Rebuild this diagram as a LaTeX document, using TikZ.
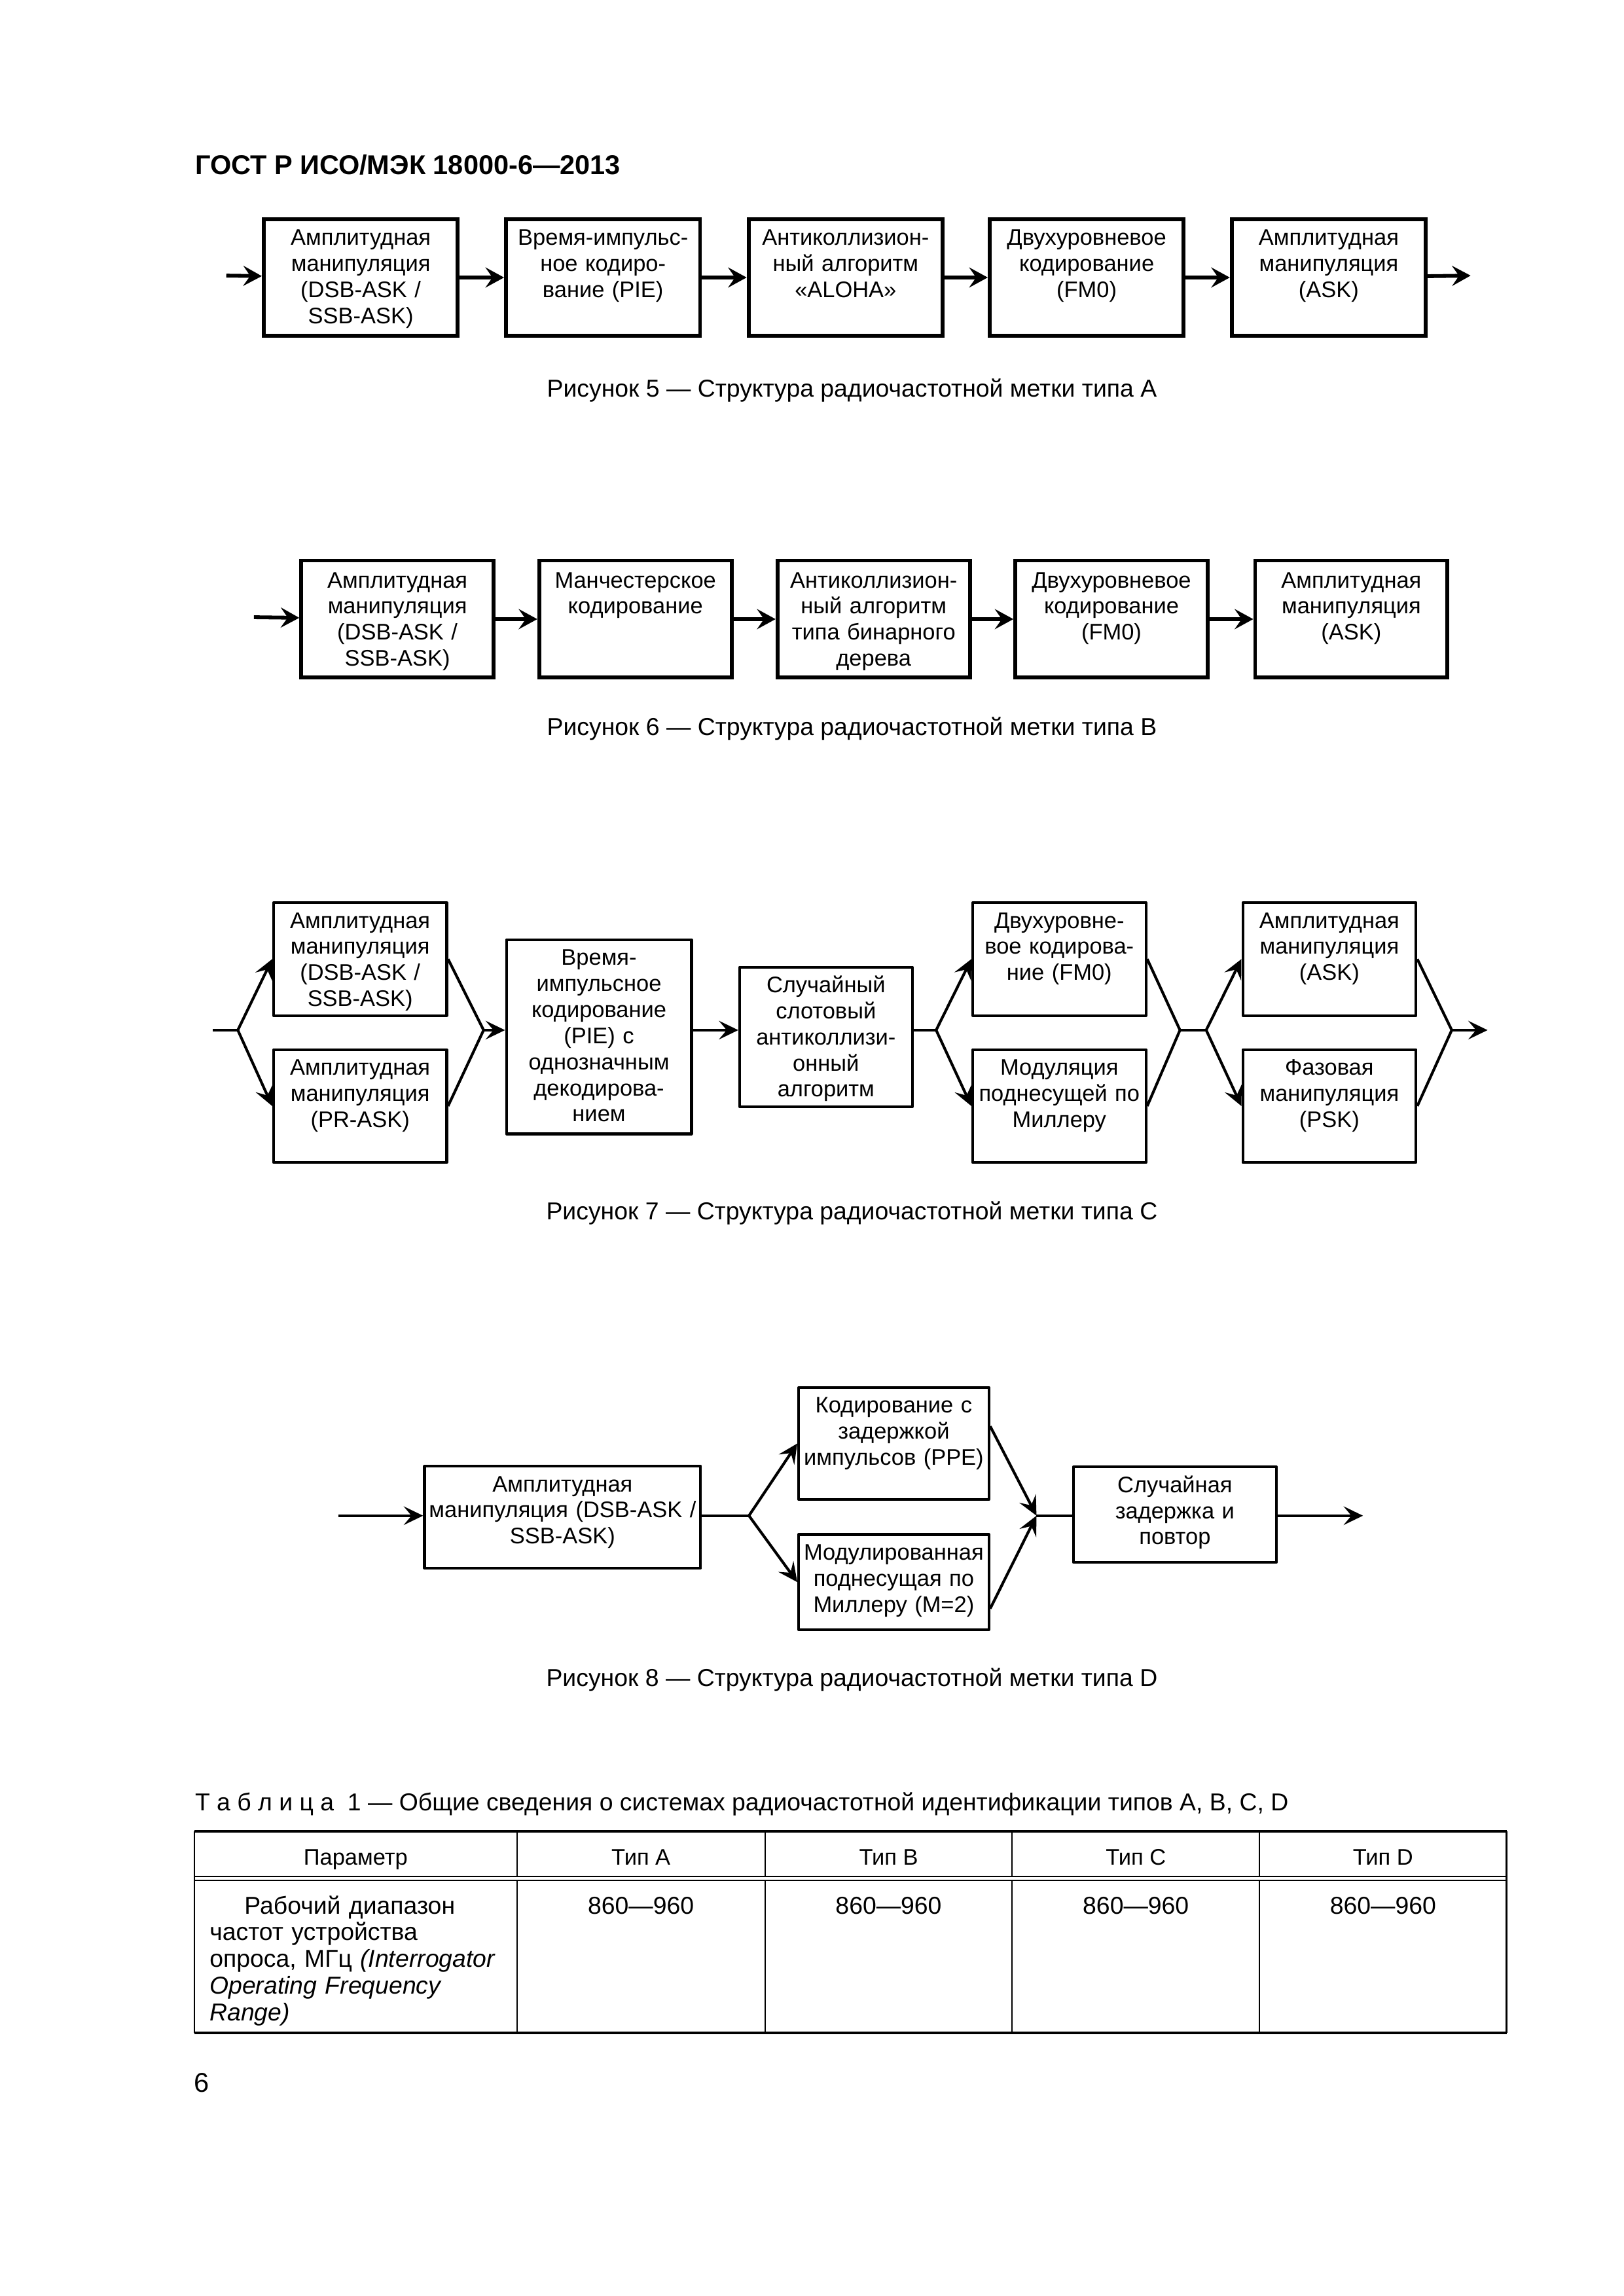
\documentclass[tikz,border=0pt]{standalone}
\usepackage{fontspec}
\setmainfont{Liberation Sans}
\usetikzlibrary{calc}
\usetikzlibrary{arrows.meta}

\begin{document}
\begin{tikzpicture}[
  blk/.style={draw, inner sep=0pt, align=center, anchor=north, font=\fontsize{8.3}{9.6}\selectfont},
  boxA/.style={blk, text width=2.51cm, text height=0.339cm, text depth=1.171cm},
  boxB/.style={blk, text width=2.488cm, text height=0.352cm, text depth=1.162cm},
  boxC/.style={blk, text width=2.24cm, text height=0.33cm, text depth=1.131cm},
  boxD/.style={blk, text height=0.33cm},
  txt/.style={inner sep=0pt, font=\fontsize{9}{11}\selectfont},
  heavy/.style={line width=1.4pt},
  thin/.style={line width=1pt, line join=round},
  arrA/.style={-{Stealth[length=2.4mm,width=2.6mm,inset=0.9mm]}},
  arrB/.style={-{Stealth[length=2.5mm,width=2.4mm,inset=1mm]}}
]
\useasboundingbox (0,0) rectangle (21,-29.7);

\node[txt, anchor=base west, font=\bfseries\fontsize{10}{12}\selectfont] (hdr) at (2.516,-2.259) {ГОСТ Р ИСО/МЭК 18000-6—2013};

% Figure 5
\begin{scope}[heavy]
\node[boxA] (a1) at (4.666,-2.81) {Амплитудная\\манипуляция\\(DSB-ASK /\\SSB-ASK)};
\node[boxA] (a2) at (7.799,-2.81) {Время-импульс-\\ное кодиро-\\вание (PIE)};
\node[boxA] (a3) at (10.937,-2.81) {Антиколлизион-\\ный алгоритм\\«ALOHA»};
\node[boxA] (a4) at (14.055,-2.81) {Двухуровневое\\кодирование\\(FM0)};
\node[boxA] (a5) at (17.186,-2.81) {Амплитудная\\манипуляция\\(ASK)};
\coordinate (ain) at (2.927,-3.565);
\coordinate (aout) at (19.021,-3.565);
\draw[arrA] (ain) -- (a1);
\draw[arrA] (a1) -- (a2);
\draw[arrA] (a2) -- (a3);
\draw[arrA] (a3) -- (a4);
\draw[arrA] (a4) -- (a5);
\draw[arrA] (a5) -- (aout);
\end{scope}
\node[txt, anchor=base] (cap5) at (11.018,-5.135) {Рисунок 5 — Структура радиочастотной метки типа А};

% Figure 6
\begin{scope}[heavy]
\node[boxB] (b1) at (5.140,-7.227) {Амплитудная\\манипуляция\\(DSB-ASK /\\SSB-ASK)};
\node[boxB] (b2) at (8.218,-7.227) {Манчестерское\\кодирование};
\node[boxB] (b3) at (11.300,-7.227) {Антиколлизион-\\ный алгоритм\\типа бинарного\\дерева};
\node[boxB] (b4) at (14.376,-7.227) {Двухуровневое\\кодирование\\(FM0)};
\node[boxB] (b5) at (17.478,-7.227) {Амплитудная\\манипуляция\\(ASK)};
\coordinate (bin) at (3.284,-7.984);
\draw[arrA] (bin) -- (b1);
\draw[arrA] (b1) -- (b2);
\draw[arrA] (b2) -- (b3);
\draw[arrA] (b3) -- (b4);
\draw[arrA] (b4) -- (b5);
\end{scope}
\node[txt, anchor=base] (cap6) at (11.018,-9.515) {Рисунок 6 — Структура радиочастотной метки типа В};

% Figure 7
\begin{scope}[thin]
\node[boxC] (c1) at (4.658,-11.658) {Амплитудная\\манипуляция\\(DSB-ASK /\\SSB-ASK)};
\node[boxC] (c2) at (4.658,-13.559) {Амплитудная\\манипуляция\\(PR-ASK)};
\node[boxC, text width=2.395cm, text depth=2.182cm] (c3) at (7.747,-12.138) {Время-\\импульсное\\кодирование\\(PIE) с\\однозначным\\декодирова-\\нием};
\node[boxC, text width=2.232cm, text depth=1.477cm] (c4) at (10.683,-12.492) {Случайный\\слотовый\\антиколлизи-\\онный\\алгоритм};
\node[boxC] (c5) at (13.701,-11.658) {Двухуровне-\\вое кодирова-\\ние (FM0)};
\node[boxC] (c6) at (13.701,-13.559) {Модуляция\\поднесущей по\\Миллеру};
\node[boxC] (c7) at (17.194,-11.658) {Амплитудная\\манипуляция\\(ASK)};
\node[boxC] (c8) at (17.194,-13.559) {Фазовая\\манипуляция\\(PSK)};
\coordinate (cin) at (2.753,-13.325);
\coordinate (cb1) at (3.076,-13.325);
\coordinate (cm1) at (6.255,-13.325);
\coordinate (cb2) at (12.108,-13.325);
\coordinate (cm2) at (15.262,-13.325);
\coordinate (cb3) at (15.601,-13.325);
\coordinate (cm3) at (18.777,-13.325);
\coordinate (cout) at (19.241,-13.325);
\draw (cin) -- (cb1);
\draw[arrB] (cb1) -- (c1.west);
\draw[arrB] (cb1) -- (c2.west);
\draw (c1.east) -- (cm1) -- (c2.east);
\draw[arrB] (cm1) -- (cm1 -| c3.west);
\draw[arrB] (c3.east |- cm1) -- (c4.west |- cm1);
\draw (c4.east |- cm1) -- (cb2);
\draw[arrB] (cb2) -- (c5.west);
\draw[arrB] (cb2) -- (c6.west);
\draw (c5.east) -- (cm2) -- (c6.east);
\draw (cm2) -- (cb3);
\draw[arrB] (cb3) -- (c7.west);
\draw[arrB] (cb3) -- (c8.west);
\draw (c7.east) -- (cm3) -- (c8.east);
\draw[arrB] (cm3) -- (cout);
\end{scope}
\node[txt, anchor=base] (cap7) at (11.018,-15.777) {Рисунок 7 — Структура радиочастотной метки типа С};

% Figure 8
\begin{scope}[thin]
\node[boxD, text width=3.572cm, text depth=0.991cm] (d1) at (7.276,-18.947) {Амплитудная\\манипуляция (DSB-ASK /\\SSB-ASK)};
\node[boxD, text width=2.46cm, text depth=1.117cm] (d2) at (11.560,-17.931) {Кодирование с\\задержкой\\импульсов (PPE)};
\node[boxD, text width=2.46cm, text depth=0.903cm] (d3) at (11.560,-19.831) {Модулированная\\поднесущая по\\Миллеру (M=2)};
\node[boxD, text width=2.626cm, text depth=0.905cm] (d4) at (15.196,-18.957) {Случайная\\задержка и\\повтор};
\coordinate (din) at (4.378,-19.606);
\coordinate (db) at (9.687,-19.606);
\coordinate (dm) at (13.406,-19.606);
\coordinate (dout) at (17.629,-19.606);
\draw[arrB] (din) -- (din -| d1.west);
\draw (d1.east |- db) -- (db);
\draw[arrB] (db) -- (d2.west);
\draw[arrB] (db) -- (d3.west);
\draw[arrB] ($(d2.north east)!0.35!(d2.south east)$) -- (dm);
\draw[arrB] ($(d3.north east)!0.77!(d3.south east)$) -- (dm);
\draw (dm) -- (dm -| d4.west);
\draw[arrB] (d4.east |- dm) -- (dout);
\end{scope}
\node[txt, anchor=base] (cap8) at (11.018,-21.813) {Рисунок 8 — Структура радиочастотной метки типа D};

% Table 1
\node[txt, anchor=base west] (tabt) at (2.516,-23.42) {Т а б л и ц а~ 1 — Общие сведения о системах радиочастотной идентификации типов А, В, С, D};
\draw[line width=1pt] (2.514,-23.692) -- (19.487,-23.692);
\draw[line width=1pt] (2.514,-26.297) -- (19.487,-26.297);
\draw[line width=0.6pt] (2.514,-23.692) -- (2.514,-26.297);
\draw[line width=0.6pt] (19.487,-23.692) -- (19.487,-26.297);
\draw[line width=0.5pt] (2.514,-24.273) -- (19.487,-24.273);
\draw[line width=0.5pt] (2.514,-24.324) -- (19.487,-24.324);
\foreach \x in {6.686,9.895,13.092,16.289} {
  \draw[line width=0.5pt] (\x,-23.692) -- (\x,-24.273);
  \draw[line width=0.5pt] (\x,-24.324) -- (\x,-26.297);
}
\begin{scope}[every node/.style={inner sep=0pt, anchor=base, font=\fontsize{8.3}{10}\selectfont}]
\node (hpar) at (4.600,-24.128) {Параметр};
\node (hta) at (8.290,-24.128) {Тип А};
\node (htb) at (11.493,-24.128) {Тип В};
\node (htc) at (14.691,-24.128) {Тип С};
\node (htd) at (17.888,-24.128) {Тип D};
\end{scope}
\begin{scope}[every node/.style={inner sep=0pt, anchor=base, font=\fontsize{9}{9.8}\selectfont}]
\node[anchor=base west, text width=3.95cm, align=left] (vpar) at (2.705,-24.758) {\hspace*{0.45cm}Рабочий диапазон\\частот устройства\\опроса, МГц {\itshape(Interrogator\\Operating Frequency\\Range)}};
\node (vta) at (8.290,-24.758) {860—960};
\node (vtb) at (11.493,-24.758) {860—960};
\node (vtc) at (14.691,-24.758) {860—960};
\node (vtd) at (17.888,-24.758) {860—960};
\end{scope}

\node[txt, anchor=base west, font=\fontsize{10}{12}\selectfont] (pgno) at (2.507,-27.065) {6};
\end{tikzpicture}
\end{document}
